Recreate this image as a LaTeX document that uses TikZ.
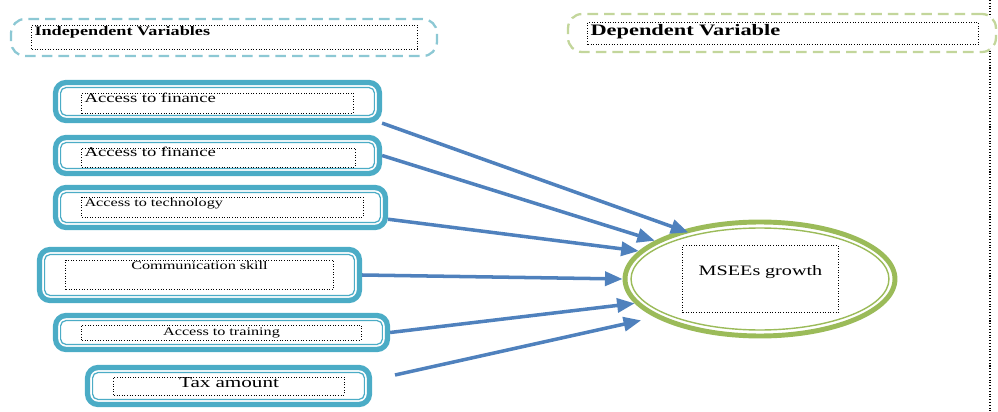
\documentclass[tikz,border=0pt]{standalone}
\usepackage{fontspec}
\setmainfont{Liberation Serif}[FakeStretch=1.4]
\usetikzlibrary{shapes.geometric,arrows.meta}

\definecolor{boxteal}{HTML}{4BACC6}
\definecolor{headteal}{HTML}{8CC8D4}
\definecolor{growgreen}{HTML}{9BBB59}
\definecolor{headgreen}{HTML}{C3D69B}
\definecolor{arrowblue}{HTML}{4F81BD}

\begin{document}
\begin{tikzpicture}[x=0.02cm,y=-0.02cm,
  varbox/.style={rectangle,draw=boxteal,line width=3pt,rounded corners=6pt,fill=white},
  varline/.style={draw=boxteal,line width=0.7pt,rounded corners=3pt},
  textbox/.style={rectangle,draw=black,densely dotted,line width=0.5pt,inner xsep=1.5pt,inner ysep=0pt},
  headbox/.style={rectangle,line width=1.3pt,dash pattern=on 6pt off 3.5pt,rounded corners=8pt,fill=white},
  effect/.style={draw=arrowblue,line width=2pt,-{Triangle[length=10pt,width=8pt]}}]

\useasboundingbox (0,0) rectangle (998,412);

\draw[black,densely dotted,line width=0.6pt] (990,0) -- (990,412);

% headings
\node[headbox,draw=headteal,minimum width=8.52cm,minimum height=0.74cm] (indep) at (224,37.5) {};
\node[textbox,text width=7.6cm,align=left,text height=6.2pt,text depth=7.4pt,font=\bfseries\fontsize{7.4}{9}\selectfont] (indeplabel) at (224.5,37) {Independent Variables};

\node[headbox,draw=headgreen,minimum width=8.56cm,minimum height=0.76cm] (dep) at (782,33) {};
\node[textbox,text width=7.7cm,align=left,text height=7.4pt,text depth=5.6pt,font=\bfseries\fontsize{9.1}{11}\selectfont] (deplabel) at (783,33.5) {Dependent Variable};

% independent variables
\node[varbox,minimum width=6.48cm,minimum height=0.76cm] (fin1) at (217.5,101.5) {};
\node[varbox,minimum width=6.48cm,minimum height=0.72cm] (fin2) at (217.5,155.5) {};
\node[varbox,minimum width=6.6cm,minimum height=0.8cm] (tech) at (220.5,207.5) {};
\node[varbox,minimum width=6.4cm,minimum height=1.02cm] (comm) at (199.5,275) {};
\node[varbox,minimum width=6.64cm,minimum height=0.68cm] (train) at (221.5,332.5) {};
\node[varbox,minimum width=5.64cm,minimum height=0.74cm] (tax) at (228.5,386) {};

\foreach \b in {fin1,fin2,tech,comm,train,tax}
  \draw[varline] ([shift={(4.4pt,-4.4pt)}]\b.north west) rectangle ([shift={(-4.4pt,4.4pt)}]\b.south east);

\node[textbox,text width=5.32cm,align=left,text height=5.7pt,text depth=5.7pt,font=\fontsize{7.6}{9}\selectfont] (fin1label) at (217.5,103) {Access to finance};
\node[textbox,text width=5.36cm,align=left,text height=5.1pt,text depth=5.7pt,font=\fontsize{7.6}{9}\selectfont] (fin2label) at (218.5,157.5) {Access to finance};
\node[textbox,text width=5.52cm,align=left,text height=5.7pt,text depth=5.7pt,font=\fontsize{6.6}{8}\selectfont] (techlabel) at (222.5,207) {Access to technology};
\node[textbox,text width=5.24cm,align=center,text height=5.1pt,text depth=11.9pt,font=\fontsize{6.6}{8}\selectfont] (commlabel) at (199.5,275) {Communication skill};
\node[textbox,text width=5.48cm,align=center,text height=5.7pt,text depth=2.8pt,font=\fontsize{6.6}{8}\selectfont] (trainlabel) at (221.5,332.5) {Access to training};
\node[textbox,text width=4.5cm,align=center,text height=6.2pt,text depth=4pt,font=\fontsize{8.6}{10}\selectfont] (taxlabel) at (229,386) {Tax amount};

% dependent variable
\node[ellipse,draw=growgreen,line width=2.8pt,minimum width=5.4cm,minimum height=2.28cm,inner sep=0pt] (growth) at (760,279) {};
\draw[growgreen,line width=0.8pt] (growth.center) ellipse [x radius=2.58cm,y radius=1.02cm];
\node[textbox,text width=3cm,align=center,text height=17pt,text depth=21.5pt,font=\fontsize{8.2}{10}\selectfont] (growthlabel) at (760.5,279) {MSEEs growth};

\coordinate (taxtail) at (395,375);

\draw[effect,shorten >=-4pt] (fin1.south east) -- (growth.148);
\draw[effect] (fin2.east) -- (growth.160);
\draw[effect] (tech.-4) -- (growth.167);
\draw[effect] (comm.east) -- (growth.180);
\draw[effect] (train.east) -- (growth.191);
\draw[effect,shorten >=8pt] (taxtail) -- (growth.200);

\end{tikzpicture}
\end{document}
